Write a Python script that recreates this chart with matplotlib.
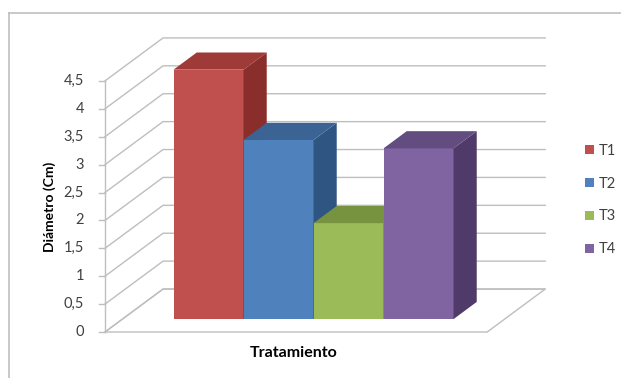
import numpy as np
import matplotlib
matplotlib.use('Agg')
import matplotlib.pyplot as plt
from matplotlib.patches import Polygon
from matplotlib.lines import Line2D

# data
series = ['T1', 'T2', 'T3', 'T4']
values = [4.47, 3.21, 1.72, 3.06]
yticks = [0, 0.5, 1, 1.5, 2, 2.5, 3, 3.5, 4, 4.5]
ytick_labels = ['0', '0,5', '1', '1,5', '2', '2,5', '3', '3,5', '4', '4,5']

front = ['#C0504D', '#4F81BD', '#9BBB59', '#8064A2']
top = ['#9E3B38', '#3B6494', '#779340', '#634C80']
side = ['#8A2E2B', '#2F5582', '#5F7A2E', '#4F3A6A']

plt.rcParams['font.family'] = ['Lato', 'DejaVu Sans']

# 3d geometry (x in bar widths, y in data units)
DX, DY = 0.829, 0.77      # full depth of floor
floor_w = 5.46
bar0 = 0.73
d0, d1 = 0.3, 0.7         # bar depth within floor
ymax = 4.5

fig = plt.figure(figsize=(6.21, 3.78), dpi=100)
ax = fig.add_axes([0, 0, 1, 1])
ax.set_xlim(-1.5, (621 - 105) / 70)
ax.set_ylim((332 - 378) / 55.8, 332 / 55.8)
ax.axis('off')

grid_c = '#BEBEBE'
# gridlines: side wall + back wall
for v in yticks:
    ax.plot([0, DX, floor_w + DX], [v, v + DY, v + DY], color=grid_c, lw=1, zorder=1)
# floor
ax.add_patch(Polygon([(0, 0), (floor_w, 0), (floor_w + DX, DY), (DX, DY)],
                     closed=True, fill=False, edgecolor=grid_c, lw=1, zorder=1))
# axis line and ticks
ax.plot([0, 0], [0, ymax], color=grid_c, lw=1, zorder=1)
for v, lab in zip(yticks, ytick_labels):
    ax.plot([-0.08, 0], [v, v], color=grid_c, lw=1, zorder=1)
    ax.text(-0.3, v, lab, ha='right', va='center', fontsize=10.5, color='#404040')

# bars, left to right
ox, oy = d0 * DX, d0 * DY
ddx, ddy = (d1 - d0) * DX, (d1 - d0) * DY
for i, (name, v) in enumerate(zip(series, values)):
    xl = bar0 + i + ox
    xr = xl + 1
    ax.bar(xl, v, width=1, bottom=oy, align='edge', color=front[i], label=name,
           zorder=2 + i)
    ax.add_patch(Polygon([(xr, oy), (xr, oy + v), (xr + ddx, oy + v + ddy), (xr + ddx, oy + ddy)],
                         closed=True, facecolor=side[i], edgecolor='none', zorder=2 + i))
    ax.add_patch(Polygon([(xl, oy + v), (xr, oy + v), (xr + ddx, oy + v + ddy), (xl + ddx, oy + v + ddy)],
                         closed=True, facecolor=top[i], edgecolor='none', zorder=2 + i))

fig.text(50 / 621, 1 - 207 / 378, 'Diámetro (Cm)', rotation=90, ha='center', va='center',
         fontsize=10, fontweight='bold')
fig.text(294 / 621, 1 - 353 / 378, 'Tratamiento', ha='center', va='center',
         fontsize=11.5, fontweight='bold')

ax.legend(loc='center left', bbox_to_anchor=(578 / 621, 1 - 200 / 378), frameon=False,
          handlelength=0.6, handleheight=0.6, handletextpad=0.35, labelspacing=1.3,
          fontsize=10.5, borderpad=0, labelcolor='#404040')

# chart area border (top and left visible)
fig.add_artist(Line2D([9 / 621, 1], [1 - 13 / 378, 1 - 13 / 378], color='#BFBFBF', lw=1.2,
                      transform=fig.transFigure))
fig.add_artist(Line2D([9 / 621, 9 / 621], [0, 1 - 13 / 378], color='#BFBFBF', lw=1.2,
                      transform=fig.transFigure))

fig.savefig('out.png', dpi=100)
